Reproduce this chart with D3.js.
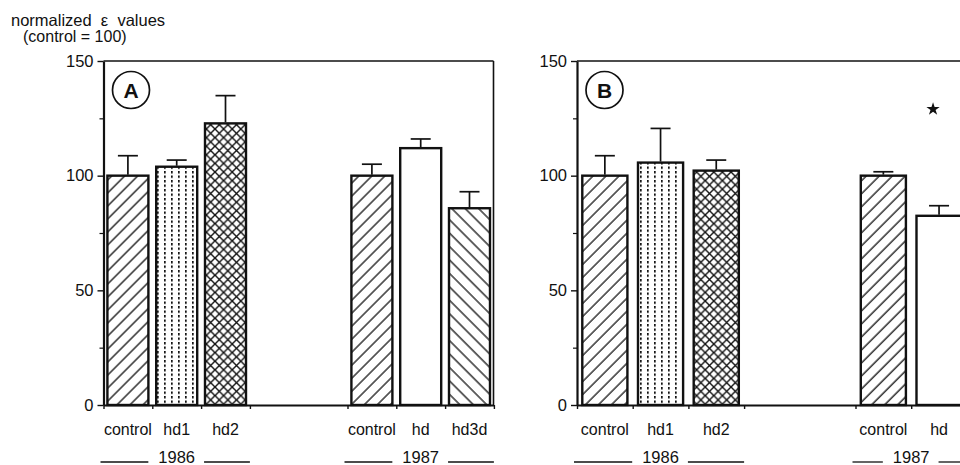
<!DOCTYPE html>
<html>
<head>
<meta charset="utf-8">
<script src="https://cdn.jsdelivr.net/npm/d3@7"></script>
<style>
body { margin: 0; background: #fff; }
svg text { font-family: "Liberation Sans", Arial, Helvetica, sans-serif; fill: #111; }
</style>
</head>
<body>
<div id="chart"></div>
<script>
// Values (normalized, control = 100).
var yearsA = ["1986", "1987"];
var groupsA = [["control", "hd1", "hd2"], ["control", "hd", "hd3d"]];
var meansA = [[100, 103.9, 122.8], [100, 112, 85.8]];
var semA = [[8.7, 2.9, 12.1], [5, 4, 7.2]];

var yearsB = ["1986", "1987"];
var groupsB = [["control", "hd1", "hd2"], ["control", "hd"]];
var meansB = [[100, 105.7, 102.2], [100, 82.5]];
var semB = [[8.7, 14.9, 4.6], [1.7, 4.4]];
var starsB = [[false, false, false], [false, true]];
var starLevel = 129;

var yMajor = [0, 50, 100, 150];
var yMinor = [25, 75, 125];

var W = 960, H = 465;
var yTop = 61, yBottom = 405;

// category name -> fill pattern
var fillOf = {
    "control": "url(#hatchFwd)",
    "hd1": "url(#dots)",
    "hd2": "url(#cross)",
    "hd": "#fff",
    "hd3d": "url(#hatchBack)"
};

var svg = d3.select("#chart").append("svg")
    .attr("width", W)
    .attr("height", H);

// Patterns
var defs = svg.append("defs");
defs.append("pattern")
    .attr("id", "hatchFwd").attr("patternUnits", "userSpaceOnUse")
    .attr("width", 9.2).attr("height", 9.2)
    .attr("patternTransform", "rotate(45)")
  .call(function (p) {
      p.append("rect").attr("width", 9.2).attr("height", 9.2).attr("fill", "#fff");
      p.append("line").attr("x1", 1).attr("x2", 1).attr("y1", 0).attr("y2", 9.2)
          .attr("stroke", "#111").attr("stroke-width", 1.3);
  });
defs.append("pattern")
    .attr("id", "hatchBack").attr("patternUnits", "userSpaceOnUse")
    .attr("width", 9.5).attr("height", 9.5)
    .attr("patternTransform", "rotate(-45)")
  .call(function (p) {
      p.append("rect").attr("width", 9.5).attr("height", 9.5).attr("fill", "#fff");
      p.append("line").attr("x1", 1).attr("x2", 1).attr("y1", 0).attr("y2", 9.5)
          .attr("stroke", "#111").attr("stroke-width", 1.3);
  });
defs.append("pattern")
    .attr("id", "dots").attr("patternUnits", "userSpaceOnUse")
    .attr("width", 7).attr("height", 4.5)
  .call(function (p) {
      p.append("rect").attr("width", 7).attr("height", 4.5).attr("fill", "#fff");
      p.append("rect").attr("x", 3).attr("y", 0).attr("width", 1.7).attr("height", 2.4)
          .attr("fill", "#111");
  });
defs.append("pattern")
    .attr("id", "cross").attr("patternUnits", "userSpaceOnUse")
    .attr("width", 8.6).attr("height", 8.6)
  .call(function (p) {
      p.append("rect").attr("width", 8.6).attr("height", 8.6).attr("fill", "#fff");
      p.append("path").attr("d", "M0,0L8.6,8.6M8.6,0L0,8.6")
          .attr("stroke", "#111").attr("stroke-width", 1.4);
  });

// Y axis title
svg.append("text").attr("x", 11).attr("y", 26).attr("font-size", 16.5)
    .style("white-space", "pre").text("normalized  \u03b5  values");
svg.append("text").attr("x", 23).attr("y", 42).attr("font-size", 16)
    .text("(control = 100)");

var y = d3.scaleLinear().domain([0, 150]).range([yBottom, yTop]);

function drawPanel(opts) {
    var g = svg.append("g").attr("class", "panel-" + opts.letter);
    var keys = [], items = [];

    // Build the band domain, two empty slots between years.
    opts.groups.forEach(function (cats, gi) {
        if (gi > 0) {
            keys.push("gap" + gi + "a", "gap" + gi + "b");
        }
        cats.forEach(function (c, ci) {
            var k = gi + "-" + ci;
            keys.push(k);
            items.push({
                key: k, name: c, group: gi,
                mean: opts.means[gi][ci], sem: opts.sem[gi][ci],
                star: opts.stars ? opts.stars[gi][ci] : false
            });
        });
    });

    var x = d3.scaleBand()
        .domain(keys)
        .range([opts.x0, opts.x0 + opts.step * keys.length])
        .paddingInner(opts.pad)
        .paddingOuter(opts.pad / 2);
    var half = x.step() * opts.pad / 2;

    // Frame (top line, optional right side)
    g.append("line")
        .attr("x1", opts.x0).attr("x2", opts.frameEnd)
        .attr("y1", yTop).attr("y2", yTop)
        .attr("stroke", "#111").attr("stroke-width", 1.6);
    if (opts.rightSide) {
        g.append("line")
            .attr("x1", opts.frameEnd).attr("x2", opts.frameEnd)
            .attr("y1", yTop).attr("y2", yBottom)
            .attr("stroke", "#111").attr("stroke-width", 1.6);
    }

    // Bars
    g.selectAll("rect.bar").data(items).enter().append("rect")
        .attr("class", "bar")
        .attr("x", function (d) { return x(d.key); })
        .attr("width", x.bandwidth())
        .attr("y", function (d) { return y(d.mean); })
        .attr("height", function (d) { return y(0) - y(d.mean); })
        .attr("fill", function (d) { return fillOf[d.name]; })
        .attr("stroke", "#111").attr("stroke-width", 2.4);

    // Error bars (upper only)
    var eb = g.selectAll("g.err").data(items).enter().append("g").attr("class", "err")
        .attr("transform", function (d) { return "translate(" + (x(d.key) + x.bandwidth() / 2) + ",0)"; })
        .attr("stroke", "#111").attr("stroke-width", 1.7);
    eb.append("line")
        .attr("y1", function (d) { return y(d.mean) - 1; })
        .attr("y2", function (d) { return y(d.mean + d.sem); });
    eb.append("line")
        .attr("x1", -10).attr("x2", 10)
        .attr("y1", function (d) { return y(d.mean + d.sem); })
        .attr("y2", function (d) { return y(d.mean + d.sem); });

    // Significance star
    g.selectAll("path.star").data(items.filter(function (d) { return d.star; }))
        .enter().append("path").attr("class", "star")
        .attr("d", d3.symbol().type(d3.symbolStar).size(55))
        .attr("fill", "#111")
        .attr("transform", function (d) {
            return "translate(" + (x(d.key) + x.bandwidth() / 2 - 6) + "," + y(starLevel) + ")";
        });

    // X baseline with ticks at slot boundaries
    var bounds = [];
    items.forEach(function (d, i) {
        bounds.push(x(d.key) - half);
        var next = items[i + 1];
        if (!next || next.group !== d.group) {
            bounds.push(x(d.key) + x.bandwidth() + half);
        }
    });
    var xLin = d3.scaleLinear().domain([opts.x0, opts.axisEnd]).range([opts.x0, opts.axisEnd]);
    var xAxis = g.append("g")
        .attr("transform", "translate(0," + yBottom + ")")
        .call(d3.axisBottom(xLin).tickValues(bounds).tickSize(4).tickSizeOuter(0).tickFormat(""));
    xAxis.select(".domain").attr("stroke-width", 2.2).attr("stroke", "#111");
    xAxis.selectAll(".tick line").attr("stroke-width", 1.4).attr("stroke", "#111");

    // Category labels
    g.selectAll("text.cat").data(items).enter().append("text")
        .attr("class", "cat")
        .attr("x", function (d) { return x(d.key) + x.bandwidth() / 2; })
        .attr("y", 435)
        .attr("text-anchor", "middle")
        .attr("font-size", 16)
        .text(function (d) { return d.name; });

    // Year labels with rules on both sides
    opts.years.forEach(function (yr, gi) {
        var gi0 = items.filter(function (d) { return d.group === gi; });
        var left = x(gi0[0].key) - half;
        var right = x(gi0[gi0.length - 1].key) + x.bandwidth() + half;
        var cx = (left + right) / 2;
        var t = g.append("text").attr("x", cx).attr("y", 463)
            .attr("text-anchor", "middle").attr("font-size", 16.5).text(yr);
        var tw = t.node().getComputedTextLength();
        g.append("line").attr("x1", left - 3).attr("x2", cx - tw / 2 - 10)
            .attr("y1", 462).attr("y2", 462).attr("stroke", "#111").attr("stroke-width", 1.3);
        g.append("line").attr("x1", cx + tw / 2 + 9).attr("x2", right)
            .attr("y1", 462).attr("y2", 462).attr("stroke", "#111").attr("stroke-width", 1.3);
    });

    // Y axis: major ticks with labels, minor ticks without
    var yAxis = g.append("g").attr("transform", "translate(" + opts.x0 + ",0)")
        .call(d3.axisLeft(y).tickValues(yMajor).tickSize(6).tickSizeOuter(0).tickPadding(4));
    yAxis.select(".domain").attr("stroke-width", 2.2).attr("stroke", "#111");
    yAxis.selectAll(".tick line").attr("stroke-width", 1.4).attr("stroke", "#111");
    yAxis.selectAll(".tick text").attr("font-size", 16.5)
        .attr("font-family", "'Liberation Sans', Arial, sans-serif").attr("fill", "#111");
    var yMin = g.append("g").attr("transform", "translate(" + opts.x0 + ",0)")
        .call(d3.axisLeft(y).tickValues(yMinor).tickSize(4).tickSizeOuter(0).tickFormat(""));
    yMin.select(".domain").remove();
    yMin.selectAll(".tick line").attr("stroke-width", 1.2).attr("stroke", "#111");

    // Panel letter in a circle
    var lg = g.append("g").attr("transform", "translate(" + (opts.x0 + 27.5) + ",90)");
    lg.append("circle").attr("r", 18.5).attr("fill", "#fff")
        .attr("stroke", "#111").attr("stroke-width", 1.7);
    lg.append("text").attr("y", 7.5).attr("text-anchor", "middle")
        .attr("font-size", 21).attr("font-weight", "bold").text(opts.letter);
}

drawPanel({
    letter: "A", years: yearsA, groups: groupsA, means: meansA, sem: semA,
    x0: 103.5, step: 48.8, pad: 0.16,
    frameEnd: 493.5, rightSide: true, axisEnd: 493.5
});
drawPanel({
    letter: "B", years: yearsB, groups: groupsB, means: meansB, sem: semB, stars: starsB,
    x0: 577, step: 55.7, pad: 0.19,
    frameEnd: W + 2, rightSide: false, axisEnd: W + 2
});
</script>
</body>
</html>
